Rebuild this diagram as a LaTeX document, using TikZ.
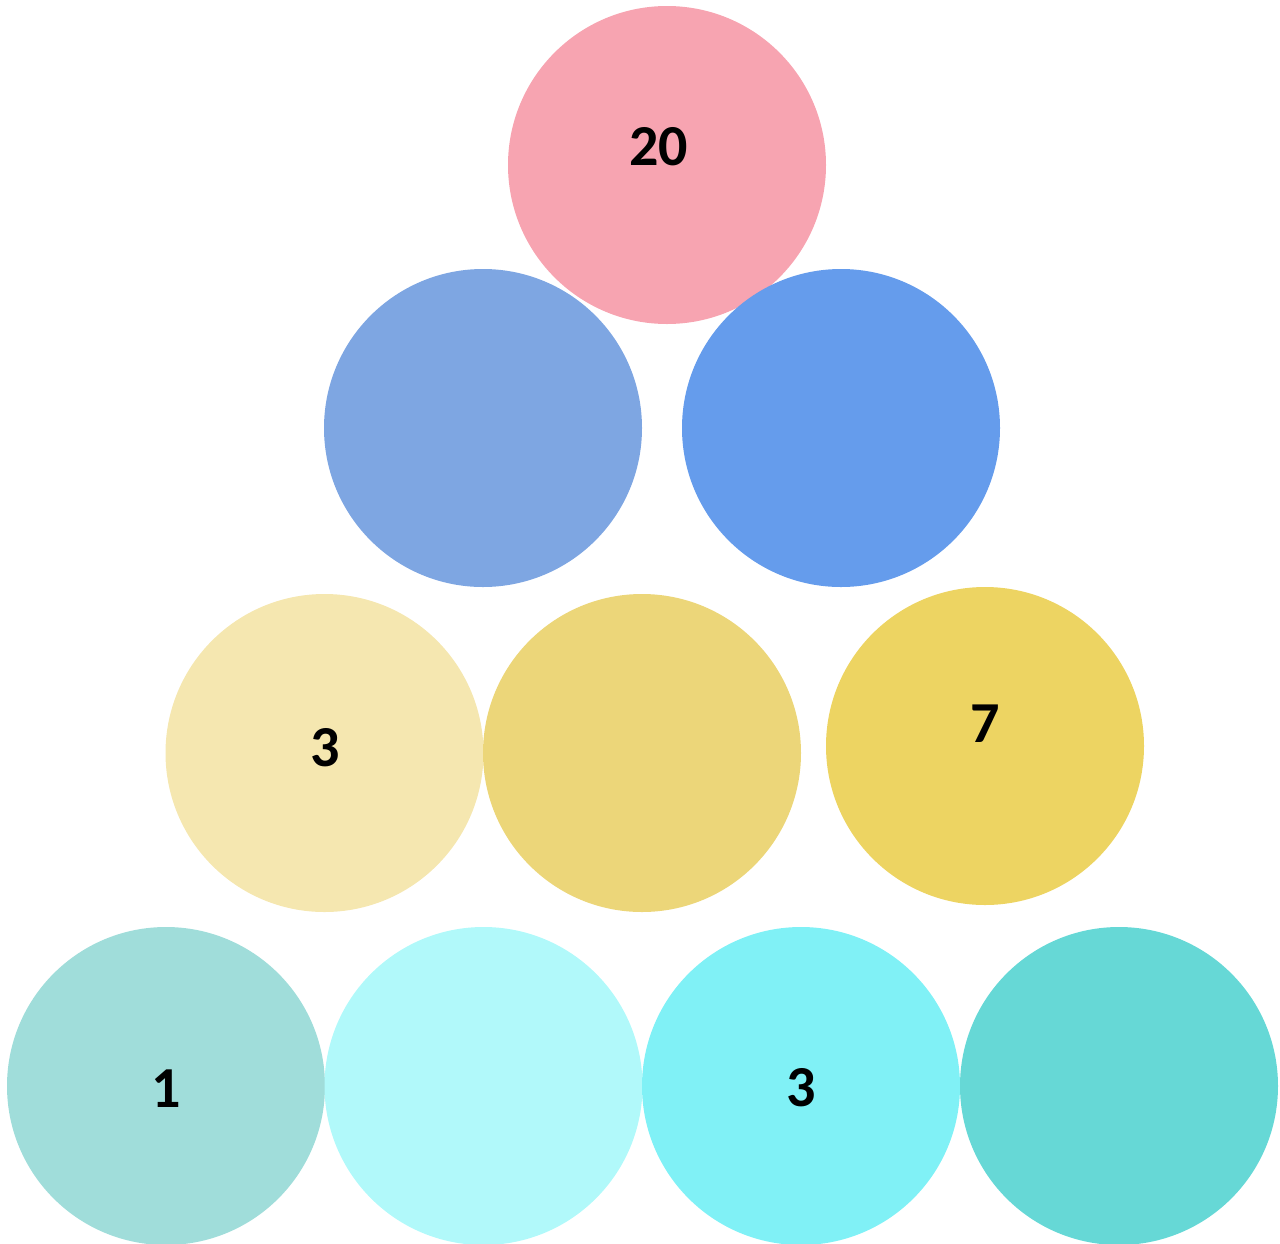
\documentclass[tikz,border=0pt]{standalone}
\usepackage{fontspec}
\setmainfont{Carlito}
\definecolor{cpink}{HTML}{F7A4B1}
\definecolor{cblueA}{HTML}{7EA6E2}
\definecolor{cblueB}{HTML}{659CEC}
\definecolor{cyelA}{HTML}{F5E7B0}
\definecolor{cyelB}{HTML}{ECD679}
\definecolor{cyelC}{HTML}{EDD462}
\definecolor{ctealA}{HTML}{A0DDDA}
\definecolor{ccyanA}{HTML}{B1F9FA}
\definecolor{ccyanB}{HTML}{80F1F6}
\definecolor{ctealB}{HTML}{66D8D6}
\tikzset{
  ball/.style={circle, draw=none, minimum size=318pt, inner sep=0pt},
  num/.style={font=\fontsize{58}{60}\selectfont\bfseries, text=black, inner sep=0pt, anchor=center}
}
\begin{document}
\begin{tikzpicture}[x=1pt,y=-1pt]
\useasboundingbox (0,0) rectangle (1280,1243);
\clip (0,0) rectangle (1280,1243);
% row 2 left behind pink
\node[ball, fill=cblueA] (b1) at (483,428) {};
\node[ball, fill=cpink] (p) at (667,165) {};
\node[ball, fill=cblueB] (b2) at (841,428) {};
% row 3
\node[ball, fill=cyelA] (y1) at (324.5,753) {};
\node[ball, fill=cyelB] (y2) at (642,753) {};
\node[ball, fill=cyelC] (y3) at (985,746) {};
% row 4
\node[ball, fill=ctealA] (t1) at (166,1086) {};
\node[ball, fill=ccyanA] (t2) at (483.5,1086) {};
\node[ball, fill=ccyanB] (t3) at (801,1086) {};
\node[ball, fill=ctealB] (t4) at (1119,1086) {};
% labels
\node[num] (l20) at (658.5,147) {20};
\node[num] (l3a) at (325.5,748) {3};
\node[num] (l7) at (985,723.5) {7};
\node[num] (l1) at (166.5,1088.5) {1};
\node[num] (l3b) at (801.5,1088) {3};
\end{tikzpicture}
\end{document}
